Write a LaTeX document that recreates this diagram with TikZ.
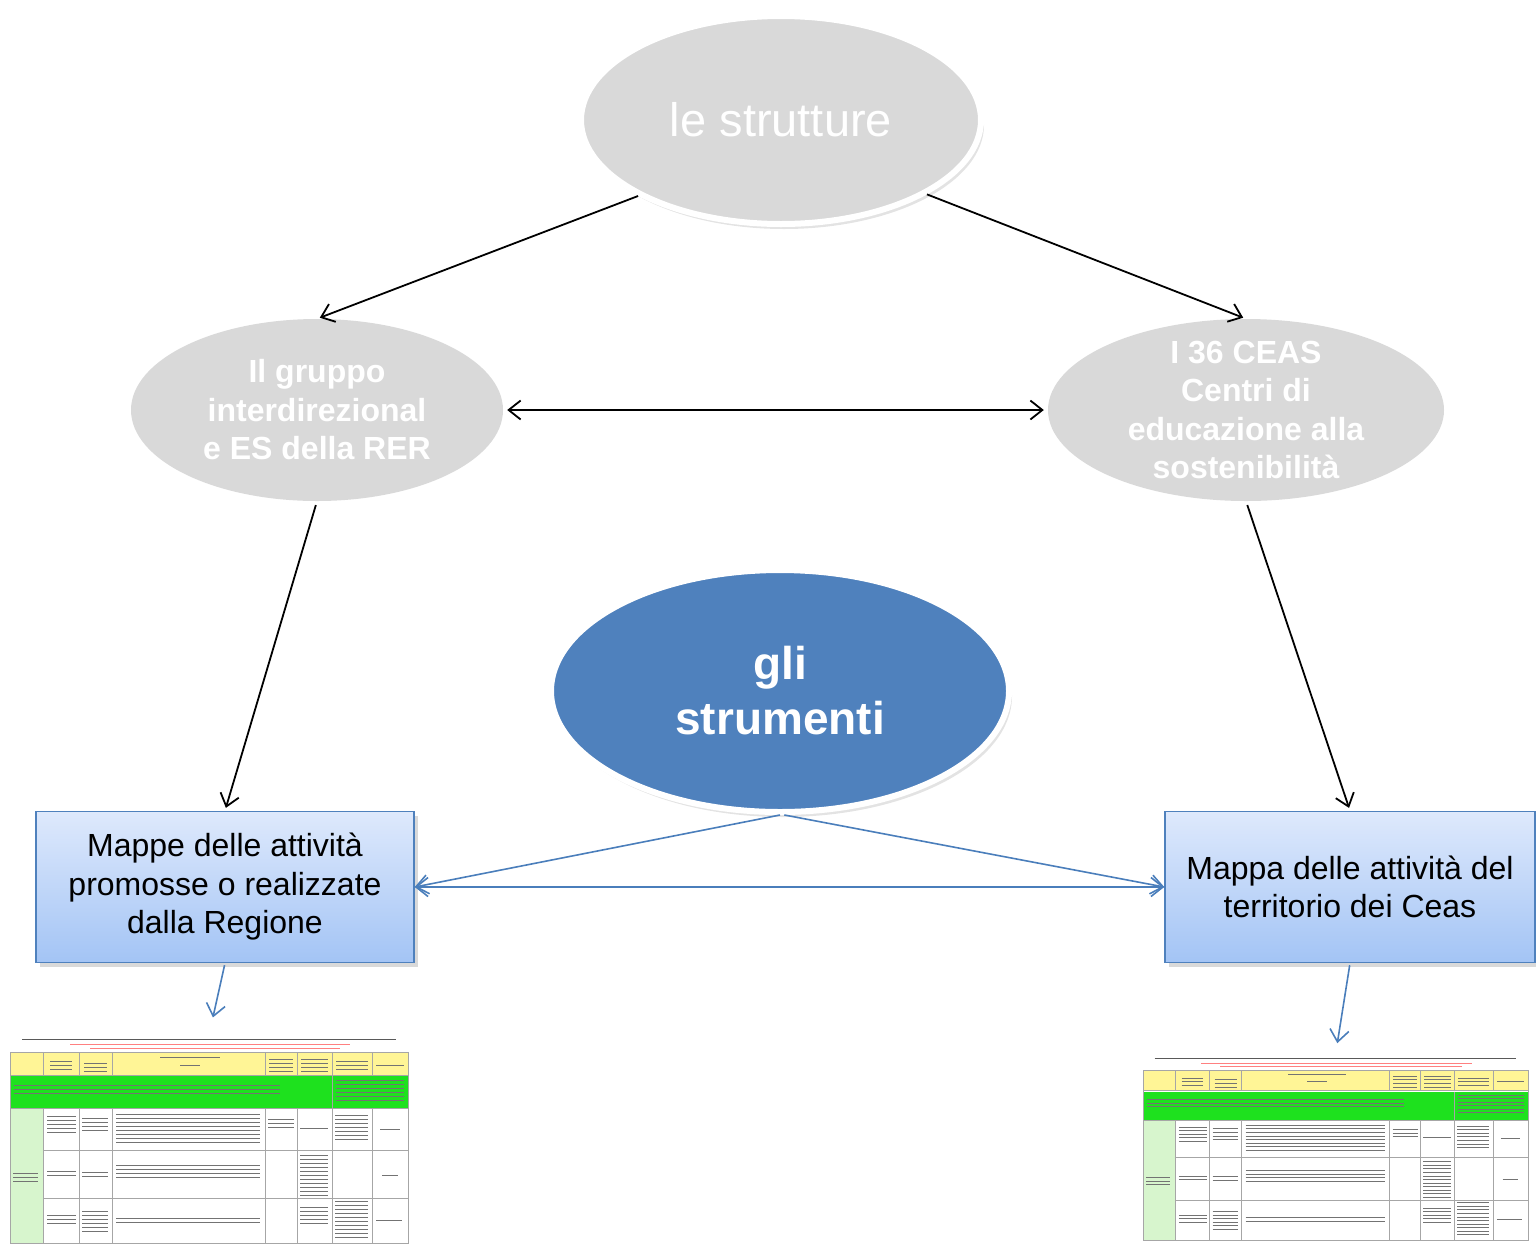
\documentclass[tikz,border=0pt]{standalone}
\usepackage{fontspec}
\setmainfont{Liberation Sans}
\usetikzlibrary{shapes.geometric, arrows.meta, shadows}

\definecolor{grigiochiaro}{RGB}{217,217,217}
\definecolor{bluscuro}{RGB}{79,129,189}
\definecolor{blufreccia}{RGB}{74,126,187}
\definecolor{blusopra}{RGB}{222,233,252}
\definecolor{blusotto}{RGB}{163,196,245}
\definecolor{intest}{RGB}{255,245,150}
\definecolor{fascia}{RGB}{30,225,30}
\definecolor{colonna}{RGB}{215,245,205}

\tikzset{
  griglia/.style={draw=black!35, line width=0.6pt},
  riga/.style={draw=black!55, line width=1pt},
  foglio/.pic={
    % foglio di calcolo (miniatura)
    \fill[white] (0,0) rectangle (398,208);
    \draw[riga, black!65] (12,4) -- (386,4);
    \draw[riga, red!50] (60,9) -- (340,9);
    \draw[riga, red!50] (80,13) -- (330,13);
    \fill[intest] (0,17) rectangle (398,40);
    \fill[fascia] (0,41) rectangle (398,73);
    \fill[colonna] (0,73) rectangle (33,208);
    \draw[griglia] (0,17) rectangle (398,208);
    \foreach \y in {40,73} \draw[griglia] (0,\y) -- (398,\y);
    \foreach \y in {115,163} \draw[griglia] (33,\y) -- (398,\y);
    \foreach \x in {33,69,102,255,287,322,362} {
      \draw[griglia] (\x,17) -- (\x,40);
      \draw[griglia] (\x,73) -- (\x,208);
    }
    \draw[griglia] (322,41) -- (322,73);
    % testo illeggibile
    \foreach \xa/\xb/\ya/\n in {
        40/62/26/3, 74/97/28/3, 150/210/22/1, 170/190/30/1, 259/283/24/4, 291/318/24/4, 326/358/26/3, 366/394/30/1,
        4/270/50/3, 326/394/45/6,
        37/66/81/5, 72/98/83/4, 106/250/79/8, 258/284/84/3, 290/318/93/1, 325/358/80/7, 370/390/94/1,
        3/28/138/3, 37/66/136/2, 72/98/137/2, 106/250/130/4, 290/318/120/11, 372/388/140/1,
        37/66/180/3, 72/98/176/6, 106/250/183/2, 290/318/172/5, 325/358/166/10, 366/392/185/1}
      \foreach \k in {1,...,\n}
        \draw[riga] (\xa,{\ya+4*\k-4}) -- (\xb,{\ya+4*\k-4});
    \coordinate (-top) at (199,0);
  }
}

\begin{document}
\begin{tikzpicture}[x=1pt, y=-1pt,
  ovale/.style={ellipse, inner sep=0pt, fill=grigiochiaro, text=white, align=center},
  bordo/.style={draw=white, line width=6pt, drop shadow={shadow xshift=3pt, shadow yshift=-5pt, opacity=0.22}},
  mappa/.style={rectangle, minimum height=151pt, inner sep=0pt, align=center, draw=bluscuro, line width=1.5pt, top color=blusopra, bottom color=blusotto, font=\fontsize{32}{38.5}\selectfont, drop shadow={shadow xshift=4pt, shadow yshift=-4pt, opacity=0.3}},
  >={Straight Barb[length=12pt, width=19pt]},
  freccia/.style={line width=1.8pt, black},
  freccia blu/.style={line width=1.6pt, blufreccia}]

  \useasboundingbox (0,0) rectangle (1536,1243);

  % Nodes
  \node (strutture) [ovale, bordo, minimum width=400pt, minimum height=208pt, font=\fontsize{47}{56}\selectfont] at (781,120) {le strutture};
  \node (gruppo) [ovale, minimum width=372pt, minimum height=182pt, font=\fontsize{32}{38.5}\selectfont\bfseries] at (317,410) {Il gruppo\\ interdirezional\\ e ES della RER};
  \node (ceas) [ovale, minimum width=396pt, minimum height=182pt, inner ysep=-8pt, font=\fontsize{32}{38.5}\selectfont\bfseries] at (1246,410) {I 36 CEAS\\ Centri di\\ educazione alla\\ sostenibilità};
  \node (strumenti) [ovale, bordo, fill=bluscuro, minimum width=458pt, minimum height=242pt, font=\fontsize{46}{55}\selectfont\bfseries] at (780,691) {gli\\ strumenti};

  \node (mapreg) [mappa, minimum width=378pt] at (225,887) {Mappe delle attività\\ promosse o realizzate\\ dalla Regione};
  \node (mapceas) [mappa, minimum width=370pt] at (1350,887) {Mappa delle attività del\\ territorio dei Ceas};

  \pic (fogliorag) at (10,1035) {foglio};
  \pic[xscale=0.967, yscale=0.89] (foglioceas) at (1143,1055) {foglio};

  % Arrows
  \draw [freccia, ->, shorten >=3pt] (strutture.208) -- (gruppo.north);
  \draw [freccia, ->, shorten >=3pt] (strutture.-27) -- (ceas.north);
  \draw [freccia, <->, shorten <=4pt, shorten >=4pt] (gruppo.east) -- (ceas.west);
  \draw [freccia, ->, shorten <=4pt, shorten >=3pt] (gruppo.south) -- (mapreg.north);
  \draw [freccia, ->, shorten <=4pt, shorten >=3pt] (ceas.south) -- (mapceas.north);

  \draw [freccia blu, ->] (strumenti.south) -- (mapreg.east);
  \draw [freccia blu, ->] (strumenti.-88) -- (mapceas.west);
  \draw [freccia blu, <->] (mapreg.east) -- (mapceas.west);
  \draw [freccia blu, ->, shorten <=2pt, shorten >=18pt] (mapreg.south) -- (fogliorag-top);
  \draw [freccia blu, ->, shorten <=2pt, shorten >=12pt] (mapceas.south) -- (foglioceas-top);

\end{tikzpicture}
\end{document}
